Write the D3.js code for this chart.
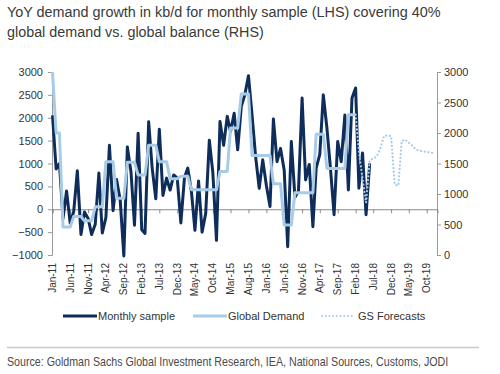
<!DOCTYPE html>
<html>
<head>
<meta charset="utf-8">
<script src="https://cdn.jsdelivr.net/npm/d3@7"></script>
<style>
  body { margin: 0; background: #fff; }
  svg { display: block; }
</style>
</head>
<body>
<div id="chart"></div>
<script>
// monthly sample, kb/d yoy (LHS), Jan-11 .. Jun-18
const monthlySample = [
  2050, 880, 1000, -200, 400, -300, -50, 840, -550, -60, -200, -550,
  -330, 790, -520, -180, 1400, -30, 650, 200, -1020, 1360, 820, -350,
  1660, -450, -530, 1910, 900, 230, 1750, 300, 680, 420, 750, 680,
  -300, 700, 900, 390, -460, 620, -500, -90, 1510, 800, -680, 1920,
  1400, 2030, 1700, 2100, 1300, 2250, 2500, 2920, 2050, 1150, 460, 1080,
  520, 60, 1970, 1040, 1330, 860, -820, 1480, 260, 400, 2430, 640,
  980, -380, 900, 1200, 2500, 1770, 900, -120, 1480, 1040, 2060, 420,
  2430, 2650, 460, 1230, -120, 1000
];

// global demand (RHS), Jan-11 .. Feb-18, steps are quarterly-ish
const globalDemand = [
  3000, 2000, 2000, 460, 460, 460, 630, 630, 630, 560, 560, 560,
  790, 790, 790, 1530, 1530, 1530, 930, 930, 930, 1520, 1520, 1520,
  1310, 1310, 1310, 1800, 1800, 1800, 1530, 1530, 1530, 1250, 1250, 1250,
  1290, 1290, 1290, 1070, 1070, 1070, 1070, 1070, 1070, 1070, 1070, 1370,
  1370, 1370, 2080, 2080, 2080, 2640, 2640, 2640, 1630, 1630, 1630, 1630,
  1630, 1630, 1170, 1170, 1170, 490, 490, 490, 1020, 1020, 1020, 1020,
  1020, 1020, 1980, 1980, 1980, 1420, 1420, 1420, 1420, 1420, 1420, 2300,
  2300, 2300
];

// GS forecasts (RHS), Feb-18 .. Dec-19
const forecastStart = "Feb-18";
const gsForecast = [
  2300, 1700, 1250, 860, 1550, 1580, 1620, 1750, 1950, 1960, 1950, 1150,
  1140, 1870, 1890, 1840, 1790, 1730, 1710, 1700, 1690, 1680, 1670
];

const tickLabels = ["Jan-11", "Jun-11", "Nov-11", "Apr-12", "Sep-12", "Feb-13", "Jul-13",
  "Dec-13", "May-14", "Oct-14", "Mar-15", "Aug-15", "Jan-16", "Jun-16", "Nov-16",
  "Apr-17", "Sep-17", "Feb-18", "Jul-18", "Dec-18", "May-19", "Oct-19"];
const leftTicks = [-1000, -500, 0, 500, 1000, 1500, 2000, 2500, 3000];
const rightTicks = [0, 500, 1000, 1500, 2000, 2500, 3000];
const seriesNames = ["Monthly sample", "Global Demand", "GS Forecasts"];

const titleLines = ["YoY demand growth in kb/d for monthly sample (LHS) covering 40%",
  "global demand vs. global balance (RHS)"];
const sourceText = "Source: Goldman Sachs Global Investment Research, IEA, National Sources, Customs, JODI";

const W = 500, H = 374;
const dark = "#0f2d5b", light = "#a8cce8";
const axisFont = "'Liberation Sans', Arial, sans-serif";
const narrowFont = "'Liberation Sans Narrow', 'Arial Narrow', 'Liberation Sans', sans-serif";

const svg = d3.select("#chart").append("svg")
  .attr("width", W)
  .attr("height", H);

const parseLabel = d3.timeParse("%b-%y");
const start = new Date(2011, 0, 1);
const monthDate = i => d3.timeMonth.offset(start, i);

// squeeze a text horizontally so it spans a given width (the original uses a condensed face)
function squeeze(sel, x0, y0, target) {
  sel.each(function () {
    const len = this.getComputedTextLength();
    const k = Math.min(1, target / len);
    d3.select(this).attr("transform", "translate(" + x0 + "," + y0 + ") scale(" + k + ",1)");
  });
}

// scales
const x = d3.scaleTime()
  .domain([start, new Date(2020, 0, 1)])
  .range([52.5, 437.5]);
const yL = d3.scaleLinear().domain([-1000, 3000]).range([255, 72]);
const yR = d3.scaleLinear().domain([0, 3000]).range([255, 72]);

// title
const titleWidths = [434, 257];
titleLines.forEach((t, i) => {
  svg.append("text")
    .attr("font-family", narrowFont)
    .attr("font-size", "15px")
    .attr("fill", "#3a3a3a")
    .text(t)
    .call(squeeze, 7, 17 + i * 20, titleWidths[i]);
});

// left axis
const leftAxis = svg.append("g")
  .attr("transform", "translate(52,0)")
  .call(d3.axisLeft(yL).tickValues(leftTicks).tickFormat(d3.format("d")).tickSize(4).tickPadding(5));
leftAxis.selectAll("text").attr("font-size", "11px").attr("font-family", axisFont).attr("fill", "#333");

// right axis
const rightAxis = svg.append("g")
  .attr("transform", "translate(437,0)")
  .call(d3.axisRight(yR).tickValues(rightTicks).tickFormat(d3.format("d")).tickSize(4).tickPadding(3));
rightAxis.selectAll("text").attr("font-size", "11px").attr("font-family", axisFont).attr("fill", "#333");

[leftAxis, rightAxis].forEach(a => {
  a.select(".domain").attr("stroke", "#9a9a9a");
  a.selectAll(".tick line").attr("stroke", "#9a9a9a");
});

// horizontal axis sits on the LHS zero line
const xAxis = svg.append("g")
  .attr("transform", "translate(0," + yL(0) + ")")
  .call(d3.axisBottom(x).tickValues(tickLabels.map(parseLabel)).tickSize(4).tickFormat(""));
xAxis.select(".domain").attr("stroke", "#8a8a8a");
xAxis.selectAll(".tick line").attr("stroke", "#8a8a8a");

// rotated month labels under the plot
svg.selectAll(".xlab")
  .data(tickLabels)
  .join("text")
  .attr("transform", d => "translate(" + x(parseLabel(d)) + ",263) rotate(-90)")
  .attr("dy", "0.35em")
  .attr("text-anchor", "end")
  .attr("font-family", axisFont)
  .attr("font-size", "10px")
  .attr("fill", "#333")
  .text(d => d);

// lines
const lineL = d3.line().x((d, i) => x(monthDate(i))).y(d => yL(d));
const lineR = d3.line().x((d, i) => x(monthDate(i))).y(d => yR(d));
const fStart = d3.timeMonth.count(start, parseLabel(forecastStart));
const lineF = d3.line().x((d, i) => x(monthDate(fStart + i))).y(d => yR(d));

svg.append("path")
  .datum(monthlySample)
  .attr("fill", "none")
  .attr("stroke", dark)
  .attr("stroke-width", 3)
  .attr("stroke-linejoin", "round")
  .attr("d", lineL);

svg.append("path")
  .datum(globalDemand)
  .attr("fill", "none")
  .attr("stroke", light)
  .attr("stroke-width", 3)
  .attr("stroke-linejoin", "round")
  .attr("d", lineR);

svg.append("path")
  .datum(gsForecast)
  .attr("fill", "none")
  .attr("stroke", light)
  .attr("stroke-width", 2.2)
  .attr("stroke-dasharray", "0.1,3.6")
  .attr("stroke-linecap", "round")
  .attr("d", lineF);

// legend
const legendX = [63, 193, 322];
const legend = svg.selectAll(".legend")
  .data(seriesNames)
  .join("g")
  .attr("transform", (d, i) => "translate(" + legendX[i] + ",316)");

legend.append("line")
  .attr("x1", 0)
  .attr("x2", (d, i) => i == 2 ? 30 : 34)
  .attr("stroke", (d, i) => i == 0 ? dark : light)
  .attr("stroke-width", (d, i) => i == 2 ? 2 : 3)
  .attr("stroke-dasharray", (d, i) => i == 2 ? "0.1,3.6" : null)
  .attr("stroke-linecap", (d, i) => i == 2 ? "round" : "butt");

legend.append("text")
  .attr("x", (d, i) => i == 2 ? 36 : 35)
  .attr("dy", "0.35em")
  .attr("font-family", axisFont)
  .attr("font-size", "11px")
  .attr("fill", "#333")
  .text(d => d);

// separator + source
svg.append("line")
  .attr("x1", 7).attr("x2", 479)
  .attr("y1", 347.5).attr("y2", 347.5)
  .attr("stroke", "#c8c8c8")
  .attr("stroke-width", 1.5);

svg.append("text")
  .attr("font-family", narrowFont)
  .attr("font-size", "13px")
  .attr("fill", "#4a4a4a")
  .text(sourceText)
  .call(squeeze, 7, 366, 442);
</script>
</body>
</html>
